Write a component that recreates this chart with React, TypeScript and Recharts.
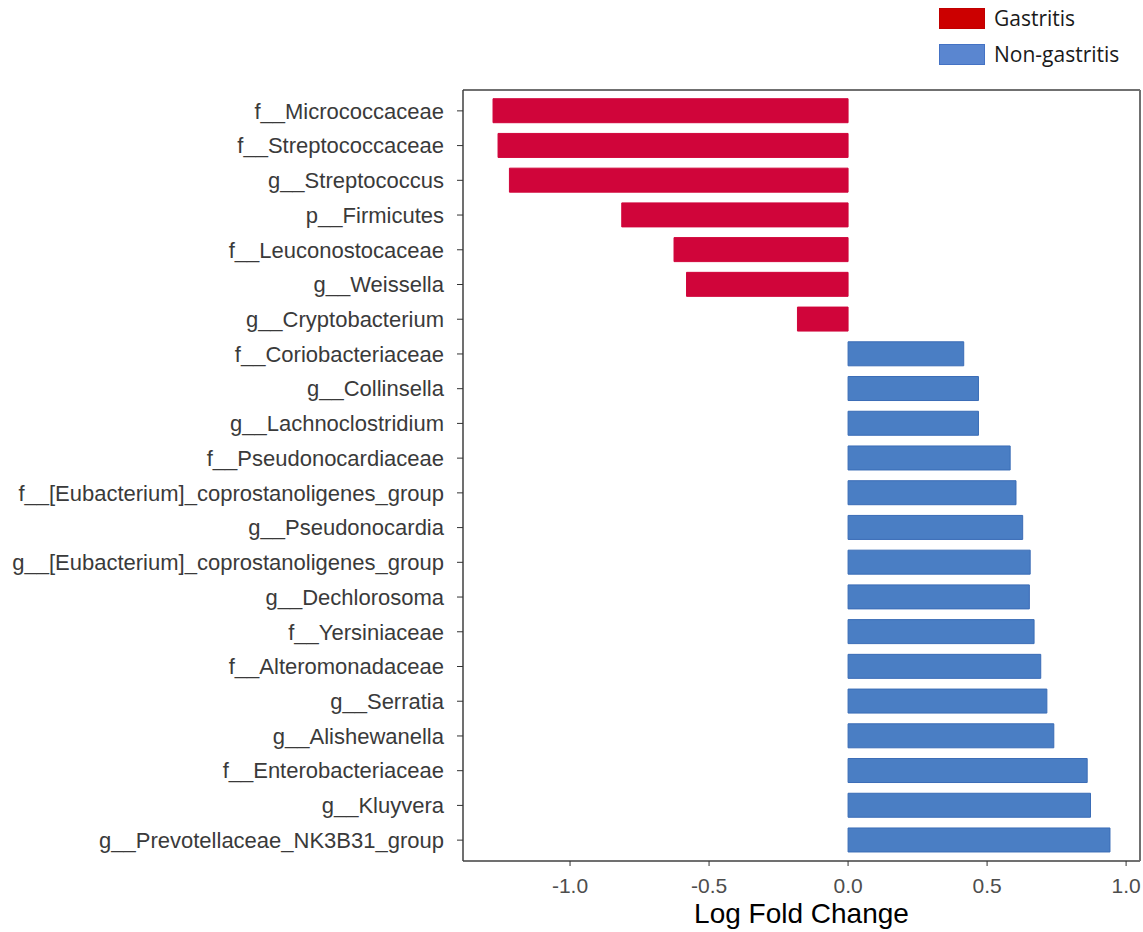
import { Bar, BarChart, Cell, Legend, XAxis, YAxis } from "recharts"

const taxa = [
  "f__Micrococcaceae",
  "f__Streptococcaceae",
  "g__Streptococcus",
  "p__Firmicutes",
  "f__Leuconostocaceae",
  "g__Weissella",
  "g__Cryptobacterium",
  "f__Coriobacteriaceae",
  "g__Collinsella",
  "g__Lachnoclostridium",
  "f__Pseudonocardiaceae",
  "f__[Eubacterium]_coprostanoligenes_group",
  "g__Pseudonocardia",
  "g__[Eubacterium]_coprostanoligenes_group",
  "g__Dechlorosoma",
  "f__Yersiniaceae",
  "f__Alteromonadaceae",
  "g__Serratia",
  "g__Alishewanella",
  "f__Enterobacteriaceae",
  "g__Kluyvera",
  "g__Prevotellaceae_NK3B31_group",
]

const logFoldChange = [
  -1.277, -1.259, -1.218, -0.814, -0.626, -0.581, -0.182,
  0.416, 0.469, 0.469, 0.583, 0.604, 0.628, 0.655, 0.652,
  0.669, 0.693, 0.715, 0.74, 0.86, 0.872, 0.942,
]

const xTicks = [-1, -0.5, 0, 0.5, 1]

const groups = [
  { name: "Gastritis", fill: "#cc0000", stroke: "#c00000" },
  { name: "Non-gastritis", fill: "#5a86d0", stroke: "#4472c4" },
]

const data = taxa.map((name, i) => ({ name, lfc: logFoldChange[i] }))

const RED = "#d0053a"
const BLUE = "#4a7ec4"
const BLUE_EDGE = "#3a6cb6"
const FONT = "'Liberation Sans', Arial, sans-serif"

function GroupLegend() {
  return (
    <div style={{ fontFamily: "'Open Sans', sans-serif", fontSize: 21, color: "#1a1a1a" }}>
      {groups.map((g) => (
        <div key={g.name} style={{ display: "flex", alignItems: "center", height: 36 }}>
          <span
            style={{
              display: "inline-block",
              width: 44,
              height: 19,
              background: g.fill,
              border: `1px solid ${g.stroke}`,
              marginRight: 9,
            }}
          />
          <span style={{ lineHeight: "21px" }}>{g.name}</span>
        </div>
      ))}
    </div>
  )
}

export default function App() {
  return (
    <div style={{ position: "absolute", left: 0, top: 0, width: 1143, height: 932, background: "#fff" }}>
      <BarChart
        width={1143}
        height={932}
        data={data}
        layout="vertical"
        barCategoryGap="15%"
        margin={{ top: 89, right: 2, bottom: 0, left: 0 }}
      >
        <XAxis
          type="number"
          domain={[-1.385, 1.05]}
          allowDataOverflow={true}
          ticks={xTicks}
          tickFormatter={(v: number) => v.toFixed(1)}
          height={71}
          tickSize={5}
          tickMargin={12}
          tick={{ fontSize: 21, fill: "#4d4d4d", fontFamily: FONT }}
          tickLine={{ stroke: "#333" }}
          axisLine={{ stroke: "#404040", strokeWidth: 1.5 }}
          label={{
            value: "Log Fold Change",
            position: "insideBottom",
            offset: 9,
            style: { fontSize: 28, fill: "#000", fontFamily: FONT },
          }}
        />
        {/* top and right edges of the panel box */}
        <XAxis
          xAxisId="top"
          orientation="top"
          type="number"
          domain={[-1.385, 1.05]}
          allowDataOverflow={true}
          height={1}
          tick={false}
          tickLine={false}
          axisLine={{ stroke: "#707070", strokeWidth: 2 }}
        />
        <YAxis
          type="category"
          dataKey="name"
          width={463}
          padding={{ top: 3.5, bottom: 3.5 }}
          interval={0}
          tickSize={6}
          tickMargin={13}
          tick={{ fontSize: 22, fill: "#3a3a3a", fontFamily: FONT }}
          tickLine={{ stroke: "#333" }}
          axisLine={{ stroke: "#404040", strokeWidth: 1.5 }}
        />
        <YAxis
          yAxisId="right"
          orientation="right"
          type="category"
          dataKey="name"
          width={1}
          tick={false}
          tickLine={false}
          axisLine={{ stroke: "#707070", strokeWidth: 2 }}
        />
        <Legend
          layout="horizontal"
          verticalAlign="middle"
          align="center"
          content={() => <GroupLegend />}
          wrapperStyle={{ top: 0, left: 939, width: 204 }}
        />
        <Bar dataKey="lfc" isAnimationActive={false} strokeWidth={1}>
          {data.map((d) => (
            <Cell
              key={d.name}
              fill={d.lfc < 0 ? RED : BLUE}
              stroke={d.lfc < 0 ? RED : BLUE_EDGE}
            />
          ))}
        </Bar>
      </BarChart>
    </div>
  )
}
